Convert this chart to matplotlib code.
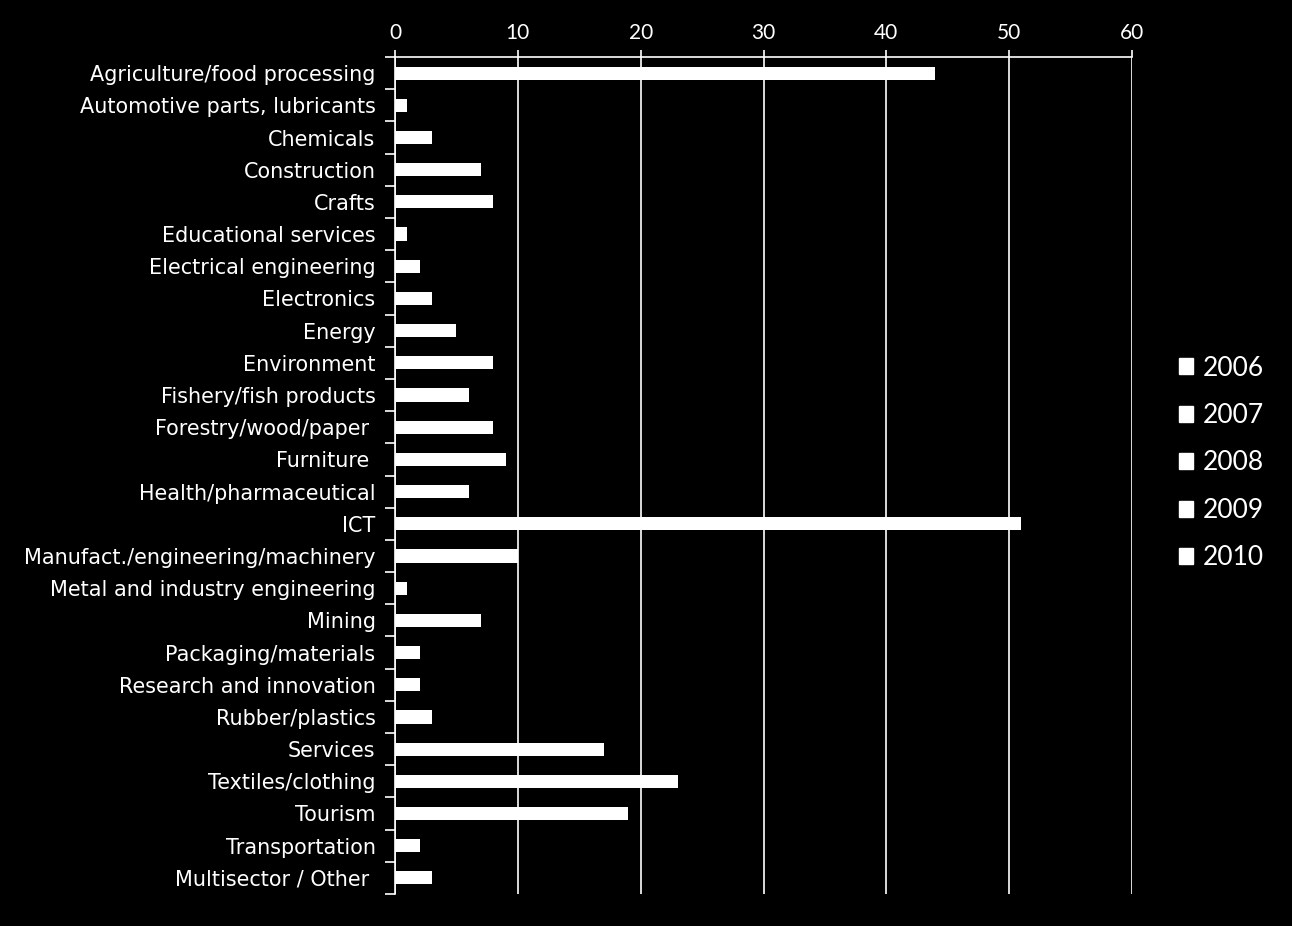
import matplotlib
matplotlib.use("Agg")
import matplotlib.pyplot as plt
from matplotlib.patches import Patch
import numpy as np

categories = [
    "Agriculture/food processing", "Automotive parts, lubricants", "Chemicals",
    "Construction", "Crafts", "Educational services", "Electrical engineering",
    "Electronics", "Energy", "Environment", "Fishery/fish products",
    "Forestry/wood/paper ", "Furniture ", "Health/pharmaceutical", "ICT",
    "Manufact./engineering/machinery", "Metal and industry engineering", "Mining",
    "Packaging/materials", "Research and innovation", "Rubber/plastics",
    "Services", "Textiles/clothing", "Tourism", "Transportation",
    "Multisector / Other ",
]
values = [44, 1, 3, 7, 8, 1, 2, 3, 5, 8, 6, 8, 9, 6, 51, 10, 1, 7, 2, 2, 3,
          17, 23, 19, 2, 3]
years = ["2006", "2007", "2008", "2009", "2010"]
xticks = [0, 10, 20, 30, 40, 50, 60]

fig = plt.figure(figsize=(12.92, 9.26), dpi=100, facecolor="black")
ax = fig.add_axes([0.3057, 0.0346, 0.8762 - 0.3057, 0.9384 - 0.0346])
ax.set_facecolor("black")

y = np.arange(len(categories))
ax.barh(y, values, height=0.41, color="white", zorder=3)
ax.set_ylim(len(categories) - 0.5, -0.5)
ax.set_xlim(0, 60)

ax.set_xticks(xticks)
ax.set_xticklabels([str(t) for t in xticks], fontfamily="Lato", fontsize=15, color="white")
ax.xaxis.tick_top()
ax.tick_params(axis="x", which="major", colors="white", length=5, width=1.2, pad=5)
ax.grid(axis="x", color="white", linewidth=1.2, zorder=1)

ax.set_yticks(y)
ax.set_yticklabels(categories, fontfamily="DejaVu Sans", fontsize=14.95, color="white")
ax.tick_params(axis="y", which="major", length=0, pad=14)
ax.set_yticks(np.arange(len(categories) + 1) - 0.5, minor=True)
ax.tick_params(axis="y", which="minor", colors="white", length=7, width=1.2)

for s in ["right", "bottom"]:
    ax.spines[s].set_visible(False)
for s in ["left", "top"]:
    ax.spines[s].set_color("white")
    ax.spines[s].set_linewidth(1.2)

handles = [Patch(facecolor="white", edgecolor="white") for _ in years]
leg = fig.legend(handles, years, loc="center left", bbox_to_anchor=(0.894, 0.5),
                 frameon=False, prop={"family": "Lato", "size": 19},
                 handlelength=0.55, handleheight=0.55, handletextpad=0.35,
                 labelspacing=0.85, labelcolor="white")

fig.savefig("out.png", dpi=100, facecolor="black")
